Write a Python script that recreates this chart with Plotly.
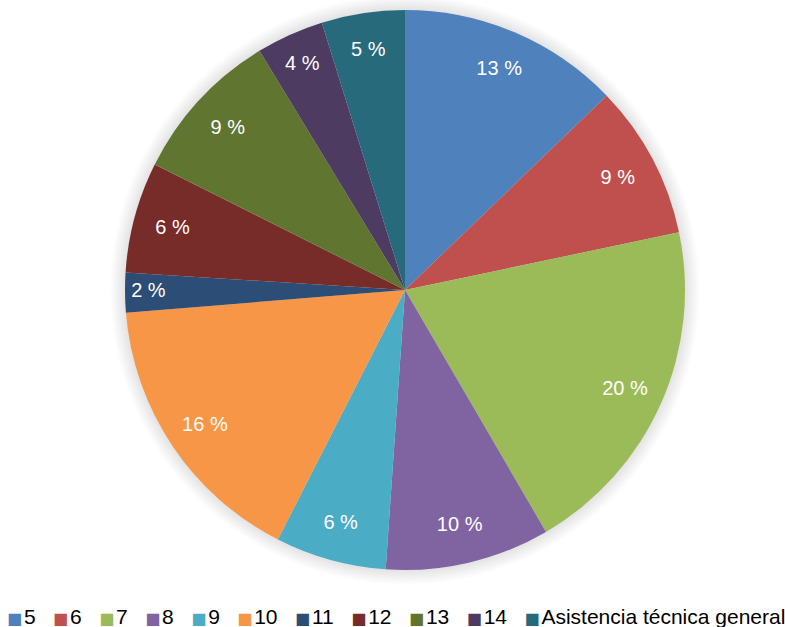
import plotly.graph_objects as go

categories = ["5", "6", "7", "8", "9", "10", "11", "12", "13", "14", "Asistencia técnica general"]
values = [12.8, 8.9, 19.9, 9.5, 6.4, 16.2, 2.3, 6.4, 8.9, 3.9, 4.8]
label_text = ["13 %", "9 %", "20 %", "10 %", "6 %", "16 %", "2 %", "6 %", "9 %", "4 %", "5 %"]
colors = ["#4F81BD", "#C0504D", "#9BBB59", "#8064A2", "#4BACC6", "#F79646",
          "#2C4D75", "#772C2A", "#5F7530", "#4D3B62", "#276A7C"]

FONT = "Liberation Sans, Arial, sans-serif"
W, H = 785, 627
ML, MR, MT, MB = 25, 0, 10, 57

fig = go.Figure()

# solid pie (no text)
fig.add_trace(go.Pie(
    labels=categories,
    values=values,
    textinfo="none",
    marker=dict(colors=colors, line=dict(width=0)),
    sort=False,
    direction="clockwise",
    rotation=0,
    hoverinfo="label+percent",
    showlegend=False,
))

# transparent ring used only to place the percentage labels near the rim
fig.add_trace(go.Pie(
    labels=categories,
    values=values,
    text=label_text,
    texttemplate="%{text}",
    textposition="inside",
    insidetextorientation="horizontal",
    textfont=dict(family=FONT, size=20, color="white"),
    marker=dict(colors=["rgba(0,0,0,0)"] * len(values), line=dict(width=0)),
    hole=0.72,
    sort=False,
    direction="clockwise",
    rotation=0,
    hoverinfo="skip",
    showlegend=False,
))

# soft shadow around the pie
pw, ph = W - ML - MR, H - MT - MB
cx, cy, r = ML + pw / 2, MT + ph / 2, min(pw, ph) / 2
shapes = []
for k in range(1, 10):
    R = r + k * 1.6
    shapes.append(dict(
        type="circle", xref="paper", yref="paper", layer="below",
        x0=(cx - R - ML) / pw, x1=(cx + R - ML) / pw,
        y0=(H - MB - (cy + R)) / ph, y1=(H - MB - (cy - R)) / ph,
        fillcolor="rgba(0,0,0,0.013)", line=dict(width=0),
    ))

# legend as a single line of text
legend_parts = []
for name, col in zip(categories, colors):
    legend_parts.append(
        f'<span style="color:{col};font-family:DejaVu Sans;font-size:16px">\u25A0</span>'
        f'\u200A{name}'
    )
legend_text = "\u00A0\u00A0\u00A0".join(legend_parts)

fig.update_layout(
    width=W, height=H,
    margin=dict(l=ML, r=MR, t=MT, b=MB),
    paper_bgcolor="white",
    plot_bgcolor="white",
    font=dict(family=FONT, size=21, color="#000000"),
    shapes=shapes,
    showlegend=False,
    annotations=[dict(
        text=legend_text, xref="paper", yref="paper",
        x=(396 - ML) / pw, y=(H - MB - 616) / ph,
        xanchor="center", yanchor="middle", showarrow=False,
        font=dict(family=FONT, size=21, color="#000000"),
    )],
)

fig.write_html(
    "out.html",
    config={"displayModeBar": False},
    post_script="document.body.style.margin='0';document.body.style.overflow='hidden';",
)
